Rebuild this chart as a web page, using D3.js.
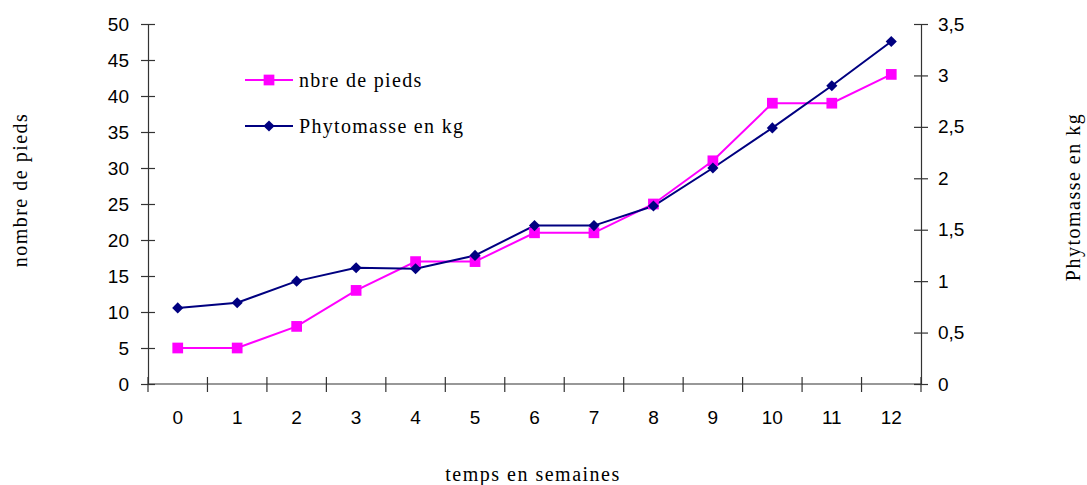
<!DOCTYPE html>
<html><head><meta charset="utf-8">
<script src="https://cdn.jsdelivr.net/npm/d3@7"></script>
<style>body{margin:0;background:#fff}</style>
</head><body>
<svg id="c" width="1087" height="485"></svg>
<script>
const weeks = ["0","1","2","3","4","5","6","7","8","9","10","11","12"];
const nbrePieds = [5,5,8,13,17,17,21,21,25,31,39,39,43];
const phytomasse = [0.74,0.79,1.0,1.13,1.12,1.25,1.54,1.54,1.73,2.10,2.49,2.90,3.33];
const leftTicks = [0,5,10,15,20,25,30,35,40,45,50];
const rightTicks = [0,0.5,1,1.5,2,2.5,3,3.5];

const svg = d3.select("#c");
const L = 148, R = 921, T = 24, B = 384;
const x = d3.scaleBand().domain(weeks).range([L, R]);
const yL = d3.scaleLinear().domain([0,50]).range([B, T]);
const yR = d3.scaleLinear().domain([0,3.5]).range([B, T]);
const sans = "'Liberation Sans', Arial, sans-serif";
const serif = "'Liberation Serif', 'Times New Roman', serif";
const axisCol = "#333";
const fs = 19;

// left axis
const gl = svg.append("g").attr("transform",`translate(${L},0)`)
  .call(d3.axisLeft(yL).tickValues(leftTicks).tickSize(7).tickPadding(12));
gl.selectAll(".tick line").attr("x2",7).attr("x1",-7);
// right axis
const gr = svg.append("g").attr("transform",`translate(${R},0)`)
  .call(d3.axisRight(yR).tickValues(rightTicks).tickSize(7).tickPadding(10)
    .tickFormat(d => String(d).replace(".",",")));
gr.selectAll(".tick line").attr("x1",-7).attr("x2",7);
// bottom axis
const gb = svg.append("g").attr("transform",`translate(0,${B})`)
  .call(d3.axisBottom(x).tickSize(0).tickPadding(26.5));
const bounds = weeks.map((w,i)=>x(w)).concat([R]);
gb.selectAll(".bt").data(bounds).enter().append("line")
  .attr("x1",d=>d).attr("x2",d=>d).attr("y1",-7).attr("y2",8);

[gl,gr,gb].forEach(g=>{
  g.select(".domain").attr("stroke",axisCol).attr("stroke-width",1.2);
  g.selectAll("line").attr("stroke",axisCol).attr("stroke-width",1.2);
  g.selectAll("text").attr("font-family",sans).attr("font-size",fs).attr("fill","#000");
});
gb.select(".domain").attr("d",`M${L},0H${R}`);

const cx = d => x(d) + x.bandwidth()/2;

// lines
svg.append("path").datum(nbrePieds)
  .attr("d", d3.line().x((d,i)=>cx(weeks[i])).y(d=>yL(d)))
  .attr("fill","none").attr("stroke","#ff00ff").attr("stroke-width",2);
svg.append("path").datum(phytomasse)
  .attr("d", d3.line().x((d,i)=>cx(weeks[i])).y(d=>yR(d)))
  .attr("fill","none").attr("stroke","#000080").attr("stroke-width",2);

const sq = d3.symbol().type(d3.symbolSquare).size(115);
const dm = d3.symbol().type(d3.symbolSquare).size(62);
svg.selectAll(".p").data(nbrePieds).enter().append("path")
  .attr("d",sq).attr("fill","#ff00ff")
  .attr("transform",(d,i)=>`translate(${cx(weeks[i])},${yL(d)})`);
svg.selectAll(".b").data(phytomasse).enter().append("path")
  .attr("d",dm).attr("fill","#000080")
  .attr("transform",(d,i)=>`translate(${cx(weeks[i])},${yR(d)}) rotate(45)`);

// legend
const leg = [{t:"nbre de pieds",c:"#ff00ff",s:sq,r:0,y:80},{t:"Phytomasse en kg",c:"#000080",s:dm,r:45,y:126}];
leg.forEach(l=>{
  svg.append("line").attr("x1",245).attr("x2",293).attr("y1",l.y).attr("y2",l.y)
    .attr("stroke",l.c).attr("stroke-width",2);
  svg.append("path").attr("d",l.s).attr("fill",l.c)
    .attr("transform",`translate(269,${l.y}) rotate(${l.r})`);
  svg.append("text").attr("x",299).attr("y",l.y+7).text(l.t)
    .attr("font-family",serif).attr("font-size",20).attr("letter-spacing",1.3);
});

// axis titles
const title = (sel) => sel.attr("text-anchor","middle").attr("font-family",serif)
  .attr("font-size",20).attr("letter-spacing",1.5);
svg.append("text").attr("transform","translate(27,190) rotate(-90)").call(title).text("nombre de pieds");
svg.append("text").attr("transform","translate(1080,197) rotate(-90)").call(title).text("Phytomasse en kg");
svg.append("text").attr("x",533).attr("y",481).call(title).text("temps en semaines");
</script>
</body></html>
